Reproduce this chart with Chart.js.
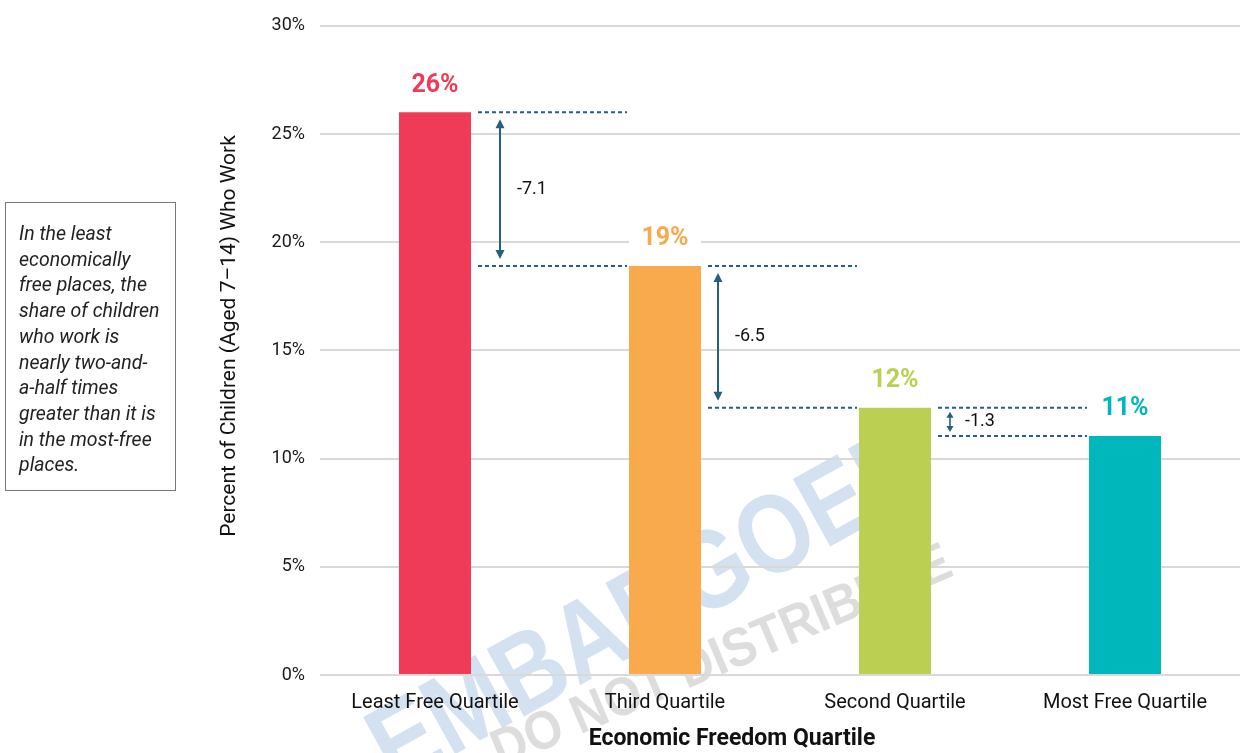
<!DOCTYPE html>
<html>
<head>
<meta charset="utf-8">
<script src="https://cdn.jsdelivr.net/npm/chart.js@4"></script>
<style>
  html, body { margin: 0; padding: 0; background: #fff; }
  #wrap { position: relative; width: 1240px; height: 753px; }
  #note {
    position: absolute; left: 5px; top: 202px; width: 171px; height: 289px;
    border: 1px solid #777; box-sizing: border-box;
    padding: 18px 0 0 13px;
    font-family: Roboto, sans-serif; font-style: italic; font-size: 19.5px;
    line-height: 25.7px; color: #222; white-space: nowrap;
  }
</style>
</head>
<body>
<div id="wrap">
  <canvas id="c" width="1240" height="753"></canvas>
  <div id="note">In the least<br>economically<br>free places, the<br>share of children<br>who work is<br>nearly two-and-<br>a-half times<br>greater than it is<br>in the most-free<br>places.</div>
</div>
<script>
const categories = ['Least Free Quartile', 'Third Quartile', 'Second Quartile', 'Most Free Quartile'];
const values = [26.0, 18.9, 12.35, 11.05];
const valueLabels = ['26%', '19%', '12%', '11%'];
const diffLabels = ['-7.1', '-6.5', '-1.3'];
const barColors = ['#EF3B57', '#F8AA4C', '#BBD052', '#00B8BB'];
const yTickValues = [0, 5, 10, 15, 20, 25, 30];
const xTitle = 'Economic Freedom Quartile';
const yTitle = 'Percent of Children (Aged 7\u201314) Who Work';

const annoColor = '#24607F';

const watermark = {
  id: 'watermark',
  beforeDraw(chart) {
    const ctx = chart.ctx;
    ctx.save();
    ctx.translate(652, 610);
    ctx.rotate(-29 * Math.PI / 180);
    ctx.scale(0.84, 1);
    ctx.font = 'bold 112px "Liberation Sans", Arial, sans-serif';
    ctx.fillStyle = 'rgba(200,217,238,0.8)';
    ctx.textAlign = 'center';
    ctx.textBaseline = 'middle';
    ctx.fillText('EMBARGOED', 0, 0);
    ctx.restore();
    ctx.save();
    ctx.translate(722, 658);
    ctx.rotate(-23 * Math.PI / 180);
    ctx.scale(0.9, 1);
    ctx.font = 'bold 54px "Liberation Sans", Arial, sans-serif';
    ctx.fillStyle = 'rgba(215,215,215,0.85)';
    ctx.textAlign = 'center';
    ctx.textBaseline = 'middle';
    ctx.fillText('DO NOT DISTRIBUTE', 0, 0);
    ctx.restore();
  }
};

function arrowHead(ctx, x, y, dir, len, w) {
  ctx.beginPath();
  ctx.moveTo(x, y);
  ctx.lineTo(x - w / 2, y - dir * len);
  ctx.lineTo(x + w / 2, y - dir * len);
  ctx.closePath();
  ctx.fill();
}

const annotations = {
  id: 'annotations',
  afterDatasetsDraw(chart) {
    const ctx = chart.ctx;
    const meta = chart.getDatasetMeta(0);
    const ys = chart.scales.y;
    const bars = meta.data;
    const arrowOffsets = [29, 17, 19];
    bars.forEach((b, i) => {
      const half = b.width / 2;
      const cy = b.y - 28;
      ctx.save();
      ctx.fillStyle = '#fff';
      ctx.fillRect(b.x - half, cy - 14, b.width, 28);
      ctx.font = 'bold 25px Roboto, sans-serif';
      ctx.fillStyle = barColors[i];
      ctx.textAlign = 'center';
      ctx.textBaseline = 'middle';
      ctx.fillText(valueLabels[i], b.x, cy + 1);
      ctx.restore();
    });
    for (let i = 0; i < bars.length - 1; i++) {
      const a = bars[i], n = bars[i + 1];
      const right = a.x + a.width / 2;
      const nextLeft = n.x - n.width / 2;
      const y1 = ys.getPixelForValue(values[i]);
      const y2 = ys.getPixelForValue(values[i + 1]);
      ctx.save();
      ctx.strokeStyle = annoColor;
      ctx.lineWidth = 2;
      ctx.setLineDash([4, 3]);
      [y1, y2].forEach(yy => {
        ctx.beginPath();
        ctx.moveTo(right + 7, yy);
        ctx.lineTo(nextLeft - 2, yy);
        ctx.stroke();
      });
      ctx.setLineDash([]);
      const small = (y2 - y1) < 40;
      const inset = small ? 4 : 7;
      const hl = small ? 6 : 9;
      const hw = small ? 7 : 9;
      const ax = right + arrowOffsets[i];
      const top = y1 + inset, bot = y2 - inset;
      ctx.lineWidth = small ? 1.6 : 2;
      ctx.beginPath();
      ctx.moveTo(ax, top + hl - 2);
      ctx.lineTo(ax, bot - hl + 2);
      ctx.stroke();
      ctx.fillStyle = annoColor;
      arrowHead(ctx, ax, top, -1, hl, hw);
      arrowHead(ctx, ax, bot, 1, hl, hw);
      ctx.font = '18px Roboto, sans-serif';
      ctx.fillStyle = '#111';
      ctx.textAlign = 'left';
      ctx.textBaseline = 'middle';
      ctx.fillText(diffLabels[i], ax + (small ? 15 : 17), (y1 + y2) / 2);
      ctx.restore();
    }
    ctx.save();
    ctx.fillStyle = '#111';
    ctx.font = 'bold 23px Roboto, sans-serif';
    ctx.textAlign = 'center';
    ctx.textBaseline = 'middle';
    ctx.fillText(xTitle, 732, 739);
    ctx.translate(230, 336);
    ctx.rotate(-Math.PI / 2);
    ctx.font = '21px Roboto, sans-serif';
    ctx.fillText(yTitle, 0, 0);
    ctx.restore();
  }
};

new Chart(document.getElementById('c'), {
  type: 'bar',
  data: {
    labels: categories,
    datasets: [{
      data: values,
      backgroundColor: barColors,
      borderWidth: 0,
      barPercentage: 0.313,
      categoryPercentage: 1.0
    }]
  },
  options: {
    responsive: false,
    animation: false,
    devicePixelRatio: 1,
    layout: { padding: { top: 22, right: 0, left: 0, bottom: 0 } },
    plugins: { legend: { display: false }, tooltip: { enabled: false } },
    scales: {
      x: {
        grid: { display: false },
        border: { display: false },
        ticks: {
          color: '#111',
          font: { family: 'Roboto', size: 20 },
          padding: 8
        },
        afterFit(scale) { scale.height = 78; }
      },
      y: {
        min: 0, max: 30,
        afterBuildTicks(scale) { scale.ticks = yTickValues.map(v => ({ value: v })); },
        grid: { color: '#d9d9d9', lineWidth: 2, drawTicks: false },
        border: { display: false },
        ticks: {
          color: '#1a1a1a',
          font: { family: 'Roboto', size: 18 },
          padding: 15,
          callback: v => v + '%'
        },
        afterFit(scale) { scale.width = 320; }
      }
    }
  },
  plugins: [watermark, annotations]
});
</script>
</body>
</html>
